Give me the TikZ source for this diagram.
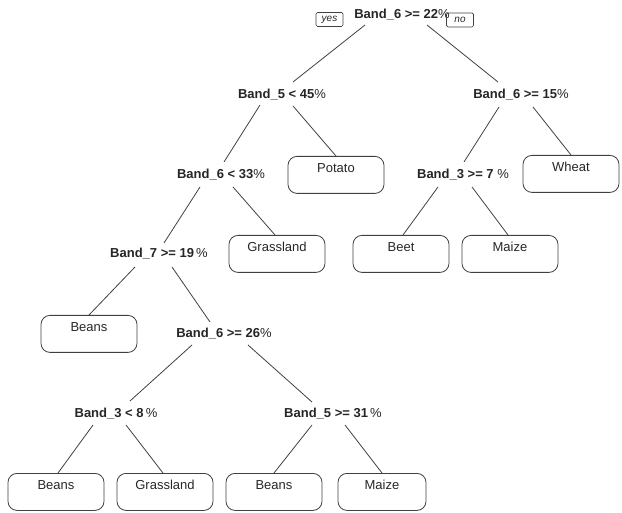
\documentclass[tikz,border=0pt]{standalone}
\usepackage{fontspec}
\setmainfont{Liberation Sans}
\newcommand{\mypct}{{\mdseries\%}}
\begin{document}
\begin{tikzpicture}[x=1pt,y=-1pt,
  split/.style={font=\fontsize{13}{15}\selectfont\bfseries, text=black!85, inner sep=0pt},
  leaf/.style={draw=black!75, line width=0.8pt, rounded corners=9pt, minimum width=96pt,
    inner xsep=0pt, inner ysep=0pt, text height=16.5pt, text depth=20.5pt,
    font=\fontsize{13}{15}\selectfont, text=black!85, anchor=north},
  tag/.style={draw=black!75, line width=0.7pt, rounded corners=1.5pt, font=\fontsize{10}{11}\selectfont\itshape,
    text=black!85, minimum width=27pt, minimum height=14pt, inner sep=0.5pt},
  edge/.style={draw=black!75, line width=0.8pt}]
\useasboundingbox (0,0) rectangle (622,513);

% split nodes
\node[split] (root) at (402,15) {Band\_6 >= 22\mypct};
\node[split] (b5)   at (282,95) {Band\_5 < 45\mypct};
\node[split] (b615) at (521,95) {Band\_6 >= 15\mypct};
\node[split] (b633) at (221,175) {Band\_6 < 33\mypct};
\node[split] (b37)  at (463,175) {Band\_3 >= 7 \mypct};
\node[split] (b7)   at (159,254) {Band\_7 >= 19\,\mypct};
\node[split] (b626) at (224,334) {Band\_6 >= 26\mypct};
\node[split] (b38)  at (116,414) {Band\_3 < 8\,\mypct};
\node[split] (b531) at (333,414) {Band\_5 >= 31\,\mypct};

% yes / no tags
\node[tag] (yes) at (329.5,19.5) {yes};
\node[tag] (no)  at (460,20) {no};

% leaves
\node[leaf] (potato) at (336,156) {Potato};
\node[leaf] (wheat)  at (571,155) {Wheat};
\node[leaf] (grass1) at (277,235) {Grassland};
\node[leaf] (beet)   at (401,235) {Beet};
\node[leaf] (maize1) at (510,235) {Maize};
\node[leaf] (beans1) at (89,315) {Beans};
\node[leaf] (beans2) at (56,473) {Beans};
\node[leaf] (grass2) at (165,473) {Grassland};
\node[leaf] (beans3) at (274,473) {Beans};
\node[leaf, minimum width=88pt] (maize2) at (382,473) {Maize};

% edges
\draw[edge] ([shift={(-37,10)}]root.center) -- ([shift={(11,-13)}]b5.center);
\draw[edge] ([shift={(25,10)}]root.center) -- ([shift={(-23,-13)}]b615.center);
\draw[edge] ([shift={(-22,10)}]b5.center) -- ([shift={(3,-13)}]b633.center);
\draw[edge] ([shift={(11,11)}]b5.center) -- (potato.north);
\draw[edge] ([shift={(-22,12)}]b615.center) -- ([shift={(1,-13)}]b37.center);
\draw[edge] ([shift={(12,12)}]b615.center) -- (wheat.north);
\draw[edge] ([shift={(-21,12)}]b633.center) -- ([shift={(5,-11)}]b7.center);
\draw[edge] ([shift={(12,12)}]b633.center) -- ([xshift=-2pt]grass1.north);
\draw[edge] ([shift={(-25,12)}]b37.center) -- ([xshift=2pt]beet.north);
\draw[edge] ([shift={(9,12)}]b37.center) -- ([xshift=-2pt]maize1.north);
\draw[edge] ([shift={(-24,13)}]b7.center) -- (beans1.north);
\draw[edge] ([shift={(13,13)}]b7.center) -- ([shift={(-14,-12)}]b626.center);
\draw[edge] ([shift={(-32,11)}]b626.center) -- ([shift={(14,-13)}]b38.center);
\draw[edge] ([shift={(24,11)}]b626.center) -- ([shift={(-21,-12)}]b531.center);
\draw[edge] ([shift={(-23,11)}]b38.center) -- ([xshift=2pt]beans2.north);
\draw[edge] ([shift={(10,11)}]b38.center) -- ([xshift=-2pt]grass2.north);
\draw[edge] ([shift={(-21,11)}]b531.center) -- (beans3.north);
\draw[edge] ([shift={(12,11)}]b531.center) -- (maize2.north);
\end{tikzpicture}
\end{document}
